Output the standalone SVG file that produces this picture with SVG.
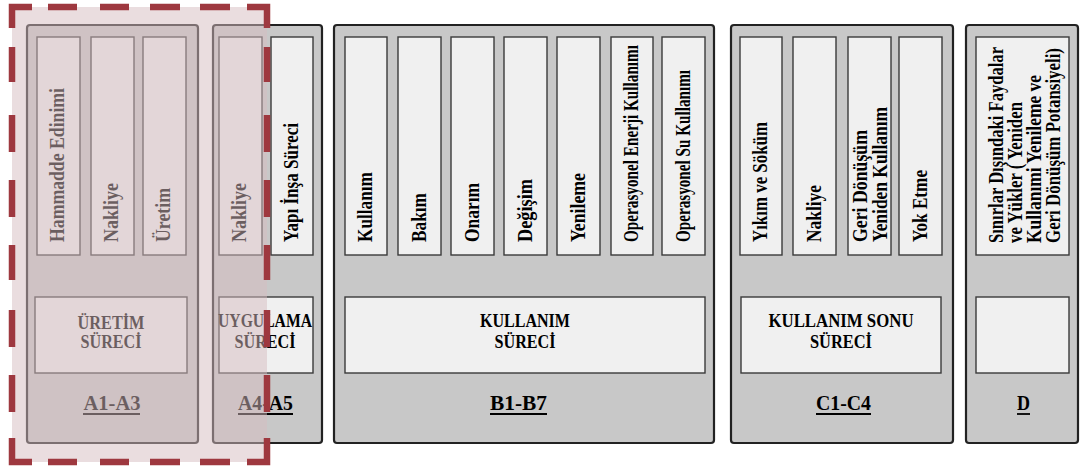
<svg xmlns="http://www.w3.org/2000/svg" width="1080" height="472" viewBox="0 0 1080 472">
  <style>
    .panel { fill: #c8c8c8; stroke: #222222; stroke-width: 2.2; }
    .box { fill: #f0f0f0; stroke: #3a3a3a; stroke-width: 1.4; }
    .t { font-family: 'Liberation Serif', 'Times New Roman', serif; font-weight: 700; fill: #000000; }
    .v { font-size: 20px; }
    .h { font-size: 19px; text-anchor: middle; }
    .lbl { font-size: 22px; text-anchor: middle; }
    .ul { stroke: #000000; stroke-width: 1.8; }
    .scope { fill: rgba(214, 188, 192, 0.5); stroke: none; }
    .dash { fill: none; stroke: #9e383f; stroke-width: 6.5; stroke-linejoin: miter; }
  </style>
  <rect width="1080" height="472" fill="#ffffff"/>

  <!-- A1-A3: production stage -->
  <g id="stage-a1-a3">
    <rect class="panel" x="27" y="25" width="171" height="418" rx="3"/>
    <rect class="box" x="37" y="37" width="43" height="218"/>
    <rect class="box" x="91" y="37" width="43" height="218"/>
    <rect class="box" x="143" y="37" width="43" height="218"/>
    <text class="t v" transform="translate(64,242) rotate(-90)" textLength="154" lengthAdjust="spacingAndGlyphs">Hammadde Edinimi</text>
    <text class="t v" transform="translate(118,242) rotate(-90)" textLength="59" lengthAdjust="spacingAndGlyphs">Nakliye</text>
    <text class="t v" transform="translate(170,242) rotate(-90)" textLength="54" lengthAdjust="spacingAndGlyphs">Üretim</text>
    <rect class="box" x="35" y="297" width="152" height="76"/>
    <text class="t h" x="111" y="329" textLength="67" lengthAdjust="spacingAndGlyphs">ÜRETİM</text>
    <text class="t h" x="111" y="348" textLength="61" lengthAdjust="spacingAndGlyphs">SÜRECİ</text>
    <text class="t lbl" x="112" y="410" textLength="57" lengthAdjust="spacingAndGlyphs">A1-A3</text>
    <line class="ul" x1="83" y1="414" x2="140" y2="414"/>
  </g>

  <!-- A4-A5: construction stage -->
  <g id="stage-a4-a5">
    <rect class="panel" x="213" y="25" width="109" height="418" rx="3"/>
    <rect class="box" x="219" y="37" width="43" height="218"/>
    <rect class="box" x="271" y="37" width="42" height="218"/>
    <text class="t v" transform="translate(246,242) rotate(-90)" textLength="59" lengthAdjust="spacingAndGlyphs">Nakliye</text>
    <text class="t v" transform="translate(297.5,242) rotate(-90)" textLength="119" lengthAdjust="spacingAndGlyphs">Yapı İnşa Süreci</text>
    <rect class="box" x="219" y="297" width="94" height="76"/>
    <text class="t h" x="265" y="327" textLength="94" lengthAdjust="spacingAndGlyphs">UYGULAMA</text>
    <text class="t h" x="265" y="348" textLength="61" lengthAdjust="spacingAndGlyphs">SÜRECİ</text>
    <text class="t lbl" x="265.5" y="410" textLength="55" lengthAdjust="spacingAndGlyphs">A4-A5</text>
    <line class="ul" x1="238" y1="414" x2="293" y2="414"/>
  </g>

  <!-- B1-B7: use stage -->
  <g id="stage-b1-b7">
    <rect class="panel" x="334" y="25" width="380" height="418" rx="3"/>
    <rect class="box" x="345" y="37" width="42" height="218"/>
    <rect class="box" x="398" y="37" width="43" height="218"/>
    <rect class="box" x="451" y="37" width="43" height="218"/>
    <rect class="box" x="504" y="37" width="43" height="218"/>
    <rect class="box" x="557" y="37" width="43" height="218"/>
    <rect class="box" x="611" y="37" width="42" height="218"/>
    <rect class="box" x="662" y="37" width="43" height="218"/>
    <text class="t v" transform="translate(372,242) rotate(-90)" textLength="70" lengthAdjust="spacingAndGlyphs">Kullanım</text>
    <text class="t v" transform="translate(425.5,242) rotate(-90)" textLength="49" lengthAdjust="spacingAndGlyphs">Bakım</text>
    <text class="t v" transform="translate(478.5,242) rotate(-90)" textLength="59" lengthAdjust="spacingAndGlyphs">Onarım</text>
    <text class="t v" transform="translate(531.5,242) rotate(-90)" textLength="63" lengthAdjust="spacingAndGlyphs">Değişim</text>
    <text class="t v" transform="translate(584.5,242) rotate(-90)" textLength="69" lengthAdjust="spacingAndGlyphs">Yenileme</text>
    <text class="t v" transform="translate(638,242) rotate(-90)" textLength="197" lengthAdjust="spacingAndGlyphs">Operasyonel Enerji Kullanımı</text>
    <text class="t v" transform="translate(689.5,242) rotate(-90)" textLength="172" lengthAdjust="spacingAndGlyphs">Operasyonel Su Kullanımı</text>
    <rect class="box" x="345" y="297" width="360" height="76"/>
    <text class="t h" x="525" y="327" textLength="90" lengthAdjust="spacingAndGlyphs">KULLANIM</text>
    <text class="t h" x="525" y="348" textLength="61" lengthAdjust="spacingAndGlyphs">SÜRECİ</text>
    <text class="t lbl" x="518.5" y="410" textLength="57" lengthAdjust="spacingAndGlyphs">B1-B7</text>
    <line class="ul" x1="490" y1="414" x2="547" y2="414"/>
  </g>

  <!-- C1-C4: end-of-life stage -->
  <g id="stage-c1-c4">
    <rect class="panel" x="731" y="25" width="222" height="418" rx="3"/>
    <rect class="box" x="740" y="37" width="42" height="218"/>
    <rect class="box" x="793" y="37" width="43" height="218"/>
    <rect class="box" x="848" y="37" width="43" height="218"/>
    <rect class="box" x="899" y="37" width="43" height="218"/>
    <text class="t v" transform="translate(767,242) rotate(-90)" textLength="120" lengthAdjust="spacingAndGlyphs">Yıkım ve Söküm</text>
    <text class="t v" transform="translate(820.5,242) rotate(-90)" textLength="57" lengthAdjust="spacingAndGlyphs">Nakliye</text>
    <text class="t v" transform="translate(867,242) rotate(-90)" textLength="112" lengthAdjust="spacingAndGlyphs">Geri Dönüşüm</text>
    <text class="t v" transform="translate(887,242) rotate(-90)" textLength="135" lengthAdjust="spacingAndGlyphs">Yeniden Kullanım</text>
    <text class="t v" transform="translate(926.5,242) rotate(-90)" textLength="72" lengthAdjust="spacingAndGlyphs">Yok Etme</text>
    <rect class="box" x="741" y="297" width="200" height="76"/>
    <text class="t h" x="841" y="327" textLength="145" lengthAdjust="spacingAndGlyphs">KULLANIM SONU</text>
    <text class="t h" x="841" y="348" textLength="62" lengthAdjust="spacingAndGlyphs">SÜRECİ</text>
    <text class="t lbl" x="843.5" y="410" textLength="55" lengthAdjust="spacingAndGlyphs">C1-C4</text>
    <line class="ul" x1="816" y1="414" x2="871" y2="414"/>
  </g>

  <!-- D: beyond system boundary -->
  <g id="stage-d">
    <rect class="panel" x="966" y="25" width="112" height="418" rx="3"/>
    <rect class="box" x="976" y="37" width="93" height="218"/>
    <text class="t v" transform="translate(1003,243) rotate(-90)" textLength="196" lengthAdjust="spacingAndGlyphs">Sınırlar Dışındaki Faydalar</text>
    <text class="t v" transform="translate(1022,243) rotate(-90)" textLength="141" lengthAdjust="spacingAndGlyphs">ve Yükler ( Yeniden</text>
    <text class="t v" transform="translate(1041,243) rotate(-90)" textLength="168" lengthAdjust="spacingAndGlyphs">Kullanımi Yenileme ve</text>
    <text class="t v" transform="translate(1060,243) rotate(-90)" textLength="195" lengthAdjust="spacingAndGlyphs">Geri Dönüşüm Potansiyeli)</text>
    <rect class="box" x="976" y="297" width="93" height="76"/>
    <text class="t lbl" x="1023.5" y="410" textLength="13" lengthAdjust="spacingAndGlyphs">D</text>
    <line class="ul" x1="1017" y1="414" x2="1030" y2="414"/>
  </g>

  <!-- highlighted scope over A1-A3 and part of A4-A5 -->
  <g id="scope-highlight">
    <rect class="scope" x="12" y="7" width="255" height="455"/>
    <path class="dash" d="M12 28V7H32 M247 7H267V28 M12 438V462H32 M247 462H267V438"/>
    <path class="dash" d="M48 7H77 M100 7H129 M150 7H180 M200 7H230 M48 462H77 M100 462H129 M150 462H180 M200 462H230"/>
    <path class="dash" d="M12 47V82 M12 115V152 M12 180V217 M12 245V280 M12 310V347 M12 375V412 M267 47V82 M267 115V152 M267 180V217 M267 245V280 M267 310V347 M267 375V412"/>
  </g>

  <g id="connectors"/>
</svg>
